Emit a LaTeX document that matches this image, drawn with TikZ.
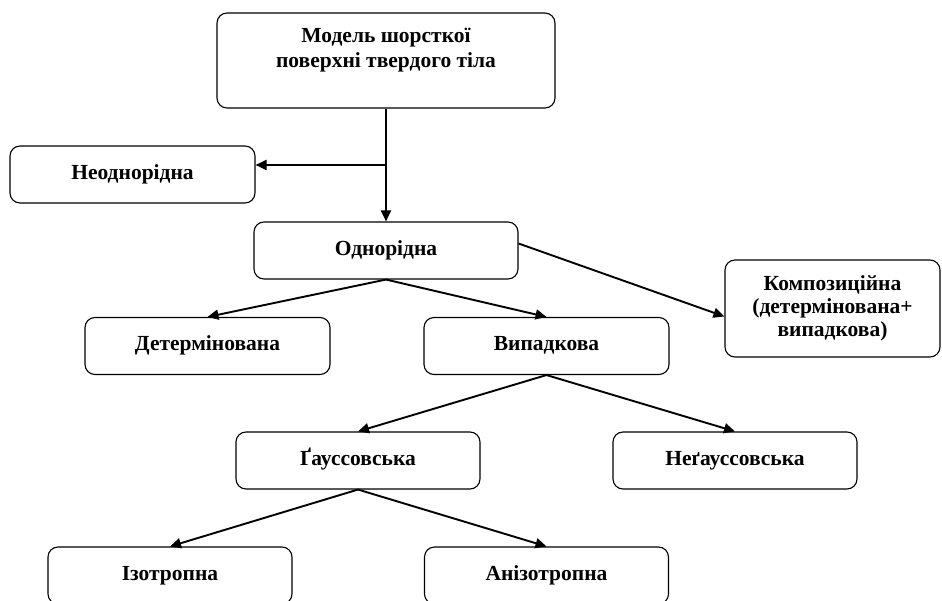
\documentclass[tikz,border=0pt]{standalone}
\usepackage{fontspec}
\setmainfont{Liberation Serif}
\usetikzlibrary{arrows.meta,calc}

\begin{document}
\begin{tikzpicture}[x=1pt,y=-1pt]
    \tikzset{
        mybox/.style={
            draw, line width=1.1pt, rounded corners=10pt,
            minimum width=#1, minimum height=57pt,
            align=center, inner sep=2pt,
            font=\fontsize{21.5}{23}\selectfont\bfseries,
        },
        mybox/.default=245pt,
        oneline/.style={text height=14pt, text depth=4pt},
        myarrow/.style={
            line width=1.9pt,
            -{Triangle[length=11pt,width=10pt]},
        },
    }
    \clip (0,0) rectangle (942,601);

    % Boxes
    \node[mybox=338pt, minimum height=95pt] (model) at (386,60.5)
        {Модель шорсткої\\[2pt]поверхні твердого тіла\\[2pt]~};
    \node[mybox, oneline] (neodn) at (132.5,174.5) {Неоднорідна};
    \node[mybox=264pt, oneline] (odn) at (386,250.5) {Однорідна};
    \node[mybox, oneline] (determ) at (207.5,346) {Детермінована};
    \node[mybox, oneline] (vypad) at (546.5,346) {Випадкова};
    \node[mybox=215pt, minimum height=97pt] (kompoz) at (832.5,308.5)
        {Композиційна\\(детермінована+\\випадкова)};
    \node[mybox=244pt, oneline] (gauss) at (358,460.5) {Ґауссовська};
    \node[mybox=244pt, oneline] (negauss) at (735,460.5) {Неґауссовська};
    \node[mybox=244pt, oneline] (izotr) at (170,575.5) {Ізотропна};
    \node[mybox=244pt, oneline] (anizotr) at (546.5,575.5) {Анізотропна};

    % Arrows
    \coordinate (split) at ($(model.south)!0.5!(odn.north)$);
    \draw[myarrow] (model.south) -- (odn.north);
    \draw[myarrow] (split) -- (split -| neodn.east);
    \draw[myarrow] (odn.south) -- (determ.north);
    \draw[myarrow] (odn.south) -- (vypad.north);
    \draw[myarrow] ([yshift=7pt]odn.east) -- ([yshift=-8pt]kompoz.west);
    \draw[myarrow] (vypad.south) -- (gauss.north);
    \draw[myarrow] (vypad.south) -- (negauss.north);
    \draw[myarrow] (gauss.south) -- (izotr.north);
    \draw[myarrow] (gauss.south) -- (anizotr.north);

\end{tikzpicture}
\end{document}
